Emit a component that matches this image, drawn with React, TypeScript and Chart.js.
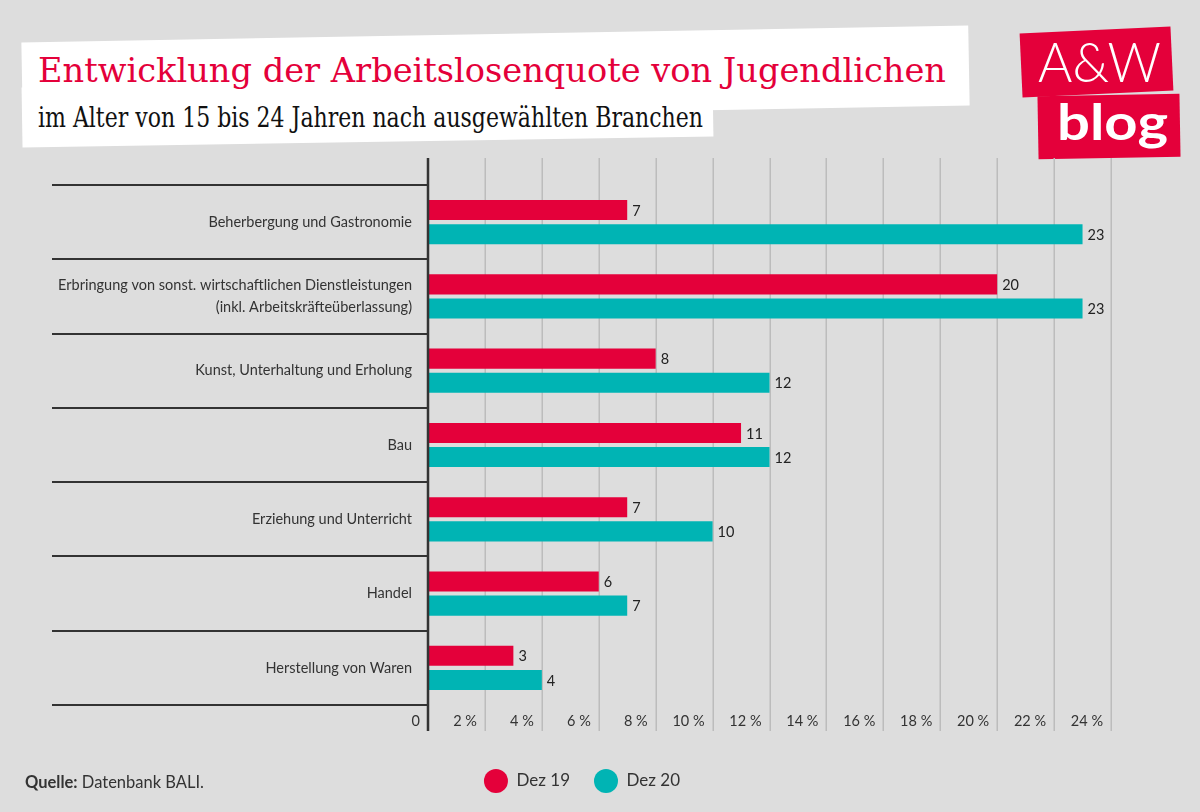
import React, { useEffect, useLayoutEffect, useRef } from "react";
import { Chart, registerables } from "chart.js";
Chart.register(...registerables);

// ---------- data ----------
const categories: string[][] = [
  ["Beherbergung und Gastronomie"],
  ["Erbringung von sonst. wirtschaftlichen Dienstleistungen", "(inkl. Arbeitskräfteüberlassung)"],
  ["Kunst, Unterhaltung und Erholung"],
  ["Bau"],
  ["Erziehung und Unterricht"],
  ["Handel"],
  ["Herstellung von Waren"],
];
const seriesNames = ["Dez 19", "Dez 20"];
const dez19 = [7, 20, 8, 11, 7, 6, 3];
const dez20 = [23, 23, 12, 12, 10, 7, 4];
const xMin = 0;
const xMax = 24;
const xStep = 2;
const tickLabel = (v: number) => (v === 0 ? "0" : `${v} %`);

const titleText = "Entwicklung der Arbeitslosenquote von Jugendlichen";
const subtitleText = "im Alter von 15 bis 24 Jahren nach ausgewählten Branchen";
const sourceLabel = "Quelle:";
const sourceText = " Datenbank BALI.";

// ---------- style ----------
const RED = "#e4003a";
const TEAL = "#00b4b4";
const BG = "#dddddd";
const FONT = "Lato, 'Open Sans', sans-serif";

function FitText({ text, width, style }: { text: string; width: number; style: React.CSSProperties }) {
  const ref = useRef<HTMLSpanElement>(null);
  useLayoutEffect(() => {
    const fit = () => {
      const el = ref.current;
      if (!el) return;
      el.style.transform = "none";
      const w = el.getBoundingClientRect().width;
      if (w > 0) el.style.transform = `scaleX(${width / w})`;
    };
    fit();
    if ((document as any).fonts && (document as any).fonts.ready) {
      (document as any).fonts.ready.then(fit);
    }
  }, [text, width]);
  return (
    <span
      ref={ref}
      style={{ display: "inline-block", whiteSpace: "nowrap", transformOrigin: "0 0", position: "absolute", ...style }}
    >
      {text}
    </span>
  );
}

const decorPlugin = {
  id: "decor",
  beforeDatasetsDraw(chart: any) {
    const { ctx, chartArea, scales } = chart;
    const xs = scales.x;
    const ys = scales.y;
    ctx.save();
    // vertical grid lines
    ctx.strokeStyle = "#bcbcbc";
    ctx.lineWidth = 1.5;
    xs.ticks.forEach((t: any) => {
      if (t.value === xMin) return;
      const x = Math.round(xs.getPixelForValue(t.value)) + 0.25;
      ctx.beginPath();
      ctx.moveTo(x, chartArea.top - 27);
      ctx.lineTo(x, chartArea.bottom + 26);
      ctx.stroke();
    });
    // category separators
    const n = categories.length;
    const half = (ys.getPixelForValue(1) - ys.getPixelForValue(0)) / 2;
    ctx.strokeStyle = "#333333";
    ctx.lineWidth = 2;
    for (let i = 0; i <= n; i++) {
      const y = Math.round(ys.getPixelForValue(i) - half);
      ctx.beginPath();
      ctx.moveTo(52, y);
      ctx.lineTo(chartArea.left, y);
      ctx.stroke();
    }
    ctx.restore();
  },
  afterDatasetsDraw(chart: any) {
    const { ctx, chartArea, scales } = chart;
    ctx.save();
    // value labels
    ctx.font = `14.5px ${FONT}`;
    ctx.fillStyle = "#222222";
    ctx.textAlign = "left";
    ctx.textBaseline = "middle";
    chart.data.datasets.forEach((ds: any, di: number) => {
      const meta = chart.getDatasetMeta(di);
      meta.data.forEach((bar: any, i: number) => {
        ctx.fillText(String(ds.data[i]), bar.x + 5, bar.y + 1);
      });
    });
    // zero axis
    const x0 = scales.x.getPixelForValue(xMin);
    ctx.strokeStyle = "#333333";
    ctx.lineWidth = 2.5;
    ctx.beginPath();
    ctx.moveTo(x0, chartArea.top - 27);
    ctx.lineTo(x0, chartArea.bottom + 26);
    ctx.stroke();
    ctx.restore();
  },
};

function BarChart() {
  const ref = useRef<HTMLCanvasElement>(null);
  useEffect(() => {
    if (!ref.current) return;
    const chart = new Chart(ref.current, {
      type: "bar",
      data: {
        labels: categories,
        datasets: [
          { label: seriesNames[0], data: dez19, backgroundColor: RED, borderWidth: 0 },
          { label: seriesNames[1], data: dez20, backgroundColor: TEAL, borderWidth: 0 },
        ],
      },
      options: {
        indexAxis: "y",
        animation: false,
        responsive: true,
        maintainAspectRatio: false,
        categoryPercentage: 0.65,
        barPercentage: 0.83,
        layout: { padding: { top: 35, right: 53, left: 53, bottom: 12.5 } },
        scales: {
          x: {
            type: "linear",
            min: xMin,
            max: xMax,
            grid: { display: false, drawTicks: false },
            border: { display: false },
            ticks: {
              stepSize: xStep,
              align: "end",
              labelOffset: -8,
              padding: 8,
              color: "#333333",
              font: { family: FONT, size: 14.5 },
              callback: (v: any) => tickLabel(Number(v)),
            },
            afterFit: (s: any) => {
              s.height = 43.5;
            },
          },
          y: {
            type: "category",
            grid: { display: false, drawTicks: false },
            border: { display: false },
            ticks: {
              padding: 16,
              color: "#333333",
              font: { family: FONT, size: 14.5, lineHeight: 1.55 },
            },
            afterFit: (s: any) => {
              s.width = 375;
            },
          },
        },
        plugins: {
          legend: {
            position: "bottom",
            labels: {
              usePointStyle: true,
              pointStyle: "circle",
              pointStyleWidth: 24,
              boxHeight: 17,
              padding: 24,
              color: "#333333",
              font: { family: FONT, size: 17 },
            },
          },
          tooltip: { enabled: false },
        },
      } as any,
      plugins: [decorPlugin],
    });
    return () => chart.destroy();
  }, []);
  return <canvas ref={ref} />;
}

export default function App() {
  useEffect(() => {
    document.body.style.margin = "0";
  }, []);
  return (
    <div
      style={{
        position: "fixed",
        left: 0,
        top: 0,
        width: 1200,
        height: 812,
        background: BG,
        overflow: "hidden",
        fontFamily: FONT,
      }}
    >
      {/* title boxes */}
      <div style={{ position: "absolute", left: 22, top: 33.5, width: 947, height: 80, background: "#fff", transform: "rotate(-1.03deg)" }} />
      <div style={{ position: "absolute", left: 22, top: 81.5, width: 691, height: 60, background: "#fff", transform: "rotate(-0.91deg)" }} />
      <FitText
        text={titleText}
        width={908}
        style={{ left: 38, top: 53, fontFamily: "'DejaVu Serif', serif", fontStretch: "condensed", fontSize: 34, lineHeight: "34px", color: RED }}
      />
      <FitText
        text={subtitleText}
        width={665}
        style={{ left: 38, top: 104, fontFamily: "'DejaVu Serif', serif", fontStretch: "condensed", fontSize: 28, lineHeight: "28px", color: "#111" }}
      />
      {/* logo */}
      <div style={{ position: "absolute", left: 1021, top: 29.5, width: 151, height: 64, background: RED, transform: "rotate(-2.65deg)" }} />
      <div style={{ position: "absolute", left: 1038, top: 95, width: 142, height: 63, background: RED, transform: "rotate(-1deg)" }} />
      <FitText
        text="A&W"
        width={123}
        style={{ left: 1038, top: 33, fontFamily: FONT, fontWeight: 300, fontSize: 56, lineHeight: "56px", color: "#fff" }}
      />
      <FitText
        text="blog"
        width={111}
        style={{ left: 1057, top: 96, fontFamily: FONT, fontWeight: 700, fontSize: 50, lineHeight: "50px", color: "#fff" }}
      />
      {/* chart */}
      <div style={{ position: "absolute", left: 0, top: 150, width: 1164, height: 662 }}>
        <BarChart />
      </div>
      {/* source */}
      <div style={{ position: "absolute", left: 25, top: 772, fontSize: 16.5, lineHeight: "20px", color: "#333", whiteSpace: "nowrap" }}>
        <b>{sourceLabel}</b>
        {sourceText}
      </div>
    </div>
  );
}
